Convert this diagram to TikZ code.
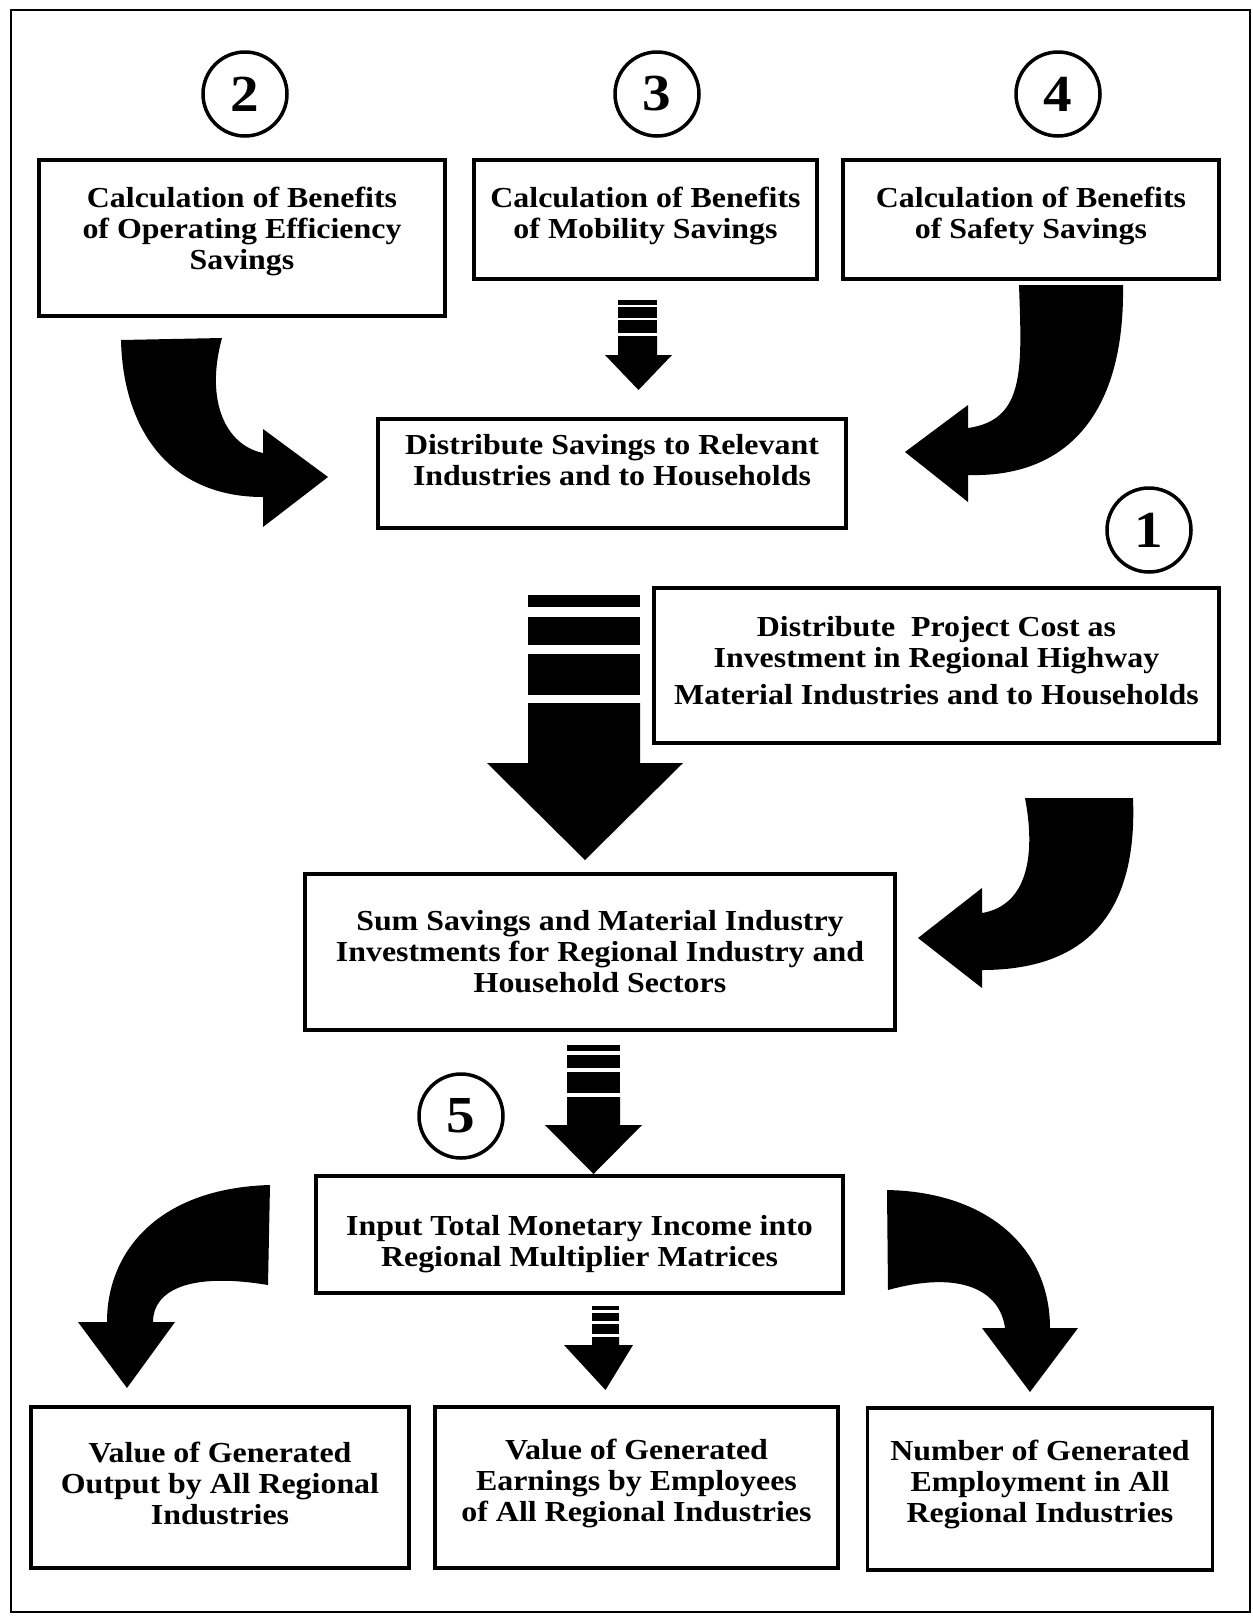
\documentclass[tikz,border=0pt]{standalone}
\usepackage{fontspec}
\setmainfont{Liberation Serif}[FakeStretch=1.1]
\tikzset{
 box/.style={draw, line width=3.5pt, inner sep=0pt},
 txt/.style={align=center, font=\fontsize{29}{31}\selectfont\bfseries, inner sep=0pt},
 num/.style={circle, draw, line width=3.5pt, minimum size=84pt, inner sep=0pt, font=\fontsize{52}{52}\selectfont\bfseries},
 blk/.style={fill=black, draw=none},
 outerframe/.style={draw, line width=2.5pt}
}
\newcommand\flowbox[7]{%
 \node[box, minimum width=#4pt, minimum height=#5pt] (#1) at (#2,#3) {};
 \node[txt] (#1t) at ([yshift=#6pt]#1.center) {#7};}
\begin{document}
\begin{tikzpicture}[x=1pt,y=-1pt]
\useasboundingbox (0,0) rectangle (1253,1623);
\draw[outerframe] (11,10) rectangle (1250,1612);

% circles
\node[num] (c2) at (245,94) {2};
\node[num] (c3) at (657,94) {3};
\node[num] (c4) at (1058,94) {4};
\node[num] (c1) at (1149,530) {1};
\node[num] (c5) at (461,1116) {5};

% boxes
\flowbox{b2}{242}{238}{406}{156}{7}{Calculation of Benefits\\of Operating Efficiency\\Savings}
\flowbox{b3}{645.5}{219.5}{343}{119}{3.5}{Calculation of Benefits\\of Mobility Savings}
\flowbox{b4}{1031}{219.5}{376}{119}{3.5}{Calculation of Benefits\\of Safety Savings}
\flowbox{dist}{612}{473.5}{468}{109}{13}{Distribute Savings to Relevant\\Industries and to Households}
\flowbox{proj}{936.5}{665.5}{565}{155}{4.5}{Distribute\ \ Project Cost as\\Investment in Regional Highway\\[6pt]Material Industries and to Households}
\flowbox{sum}{600}{952}{590}{156}{0}{Sum Savings and Material Industry\\Investments for Regional Industry and\\Household Sectors}
\flowbox{inp}{579.5}{1234.5}{527}{117}{-10}{Input Total Monetary Income into\\Regional Multiplier Matrices}
\flowbox{oA}{220}{1487.5}{378}{161}{4.5}{Value of Generated\\Output by All Regional\\Industries}
\flowbox{oB}{636.5}{1487.5}{403}{161}{4.5}{Value of Generated\\Earnings by Employees\\of All Regional Industries}
\flowbox{oC}{1040}{1489}{345}{162}{4.5}{Number of Generated\\Employment in All\\Regional Industries}

% striped arrow b3 -> dist
\fill[blk] (618,300) rectangle (657,305);
\fill[blk] (618,307) rectangle (657,318);
\fill[blk] (618,320) rectangle (657,333);
\fill[blk] (618,336) -- (657,336) -- (657,355) -- (672,355) -- (638.5,390) -- (605,355) -- (618,355) -- cycle;

% big striped arrow dist -> sum
\fill[blk] (528,595) rectangle (640,607);
\fill[blk] (528,617) rectangle (640,645);
\fill[blk] (528,654) rectangle (640,695);
\fill[blk] (528,703) -- (640,703) -- (640,763) -- (683,763) -- (585,860) -- (487,763) -- (528,763) -- cycle;

% striped arrow sum -> input
\fill[blk] (567,1045) rectangle (620,1051);
\fill[blk] (567,1055) rectangle (620,1068);
\fill[blk] (567,1072) rectangle (620,1093);
\fill[blk] (567,1097) -- (620,1097) -- (620,1125) -- (642,1125) -- (593.5,1174) -- (545,1125) -- (567,1125) -- cycle;

% small striped arrow input -> oB
\fill[blk] (592,1306) rectangle (619,1310);
\fill[blk] (592,1313) rectangle (619,1321);
\fill[blk] (592,1324) rectangle (619,1334);
\fill[blk] (592,1337) -- (619,1337) -- (619,1345) -- (633,1345) -- (605.5,1390) -- (564,1345) -- (592,1345) -- cycle;

% curved arrow b2 -> dist
\fill[blk] (121,340) -- (222,338) .. controls (205,400) and (225,445) .. (263,453)
  -- (263,429) -- (328,477) -- (263,527) -- (263,497)
  .. controls (170,497) and (123,430) .. (121,340) -- cycle;

% curved arrow b4 -> dist
\fill[blk] (1019,285) -- (1123,285) .. controls (1125,410) and (1070,478) .. (968,475)
  -- (968,502) -- (905,452) -- (968,405) -- (968,428)
  .. controls (1025,420) and (1022,370) .. (1019,285) -- cycle;

% curved arrow proj -> sum
\fill[blk] (1025,798) -- (1133,798) .. controls (1138,920) and (1080,970) .. (982,970)
  -- (982,988) -- (918,938) -- (982,888) -- (982,913)
  .. controls (1030,905) and (1035,850) .. (1025,798) -- cycle;

% curved arrow input -> oA
\fill[blk] (270,1185) -- (268,1285) .. controls (190,1272) and (153,1290) .. (153,1322)
  -- (175,1322) -- (127,1388) -- (78,1322) -- (107,1322)
  .. controls (107,1250) and (160,1188) .. (270,1185) -- cycle;

% curved arrow input -> oC
\fill[blk] (887,1190) .. controls (990,1192) and (1050,1250) .. (1050,1328)
  -- (1078,1328) -- (1030,1392) -- (982,1328) -- (1005,1328)
  .. controls (1000,1290) and (960,1270) .. (888,1290) -- cycle;
\end{tikzpicture}
\end{document}
